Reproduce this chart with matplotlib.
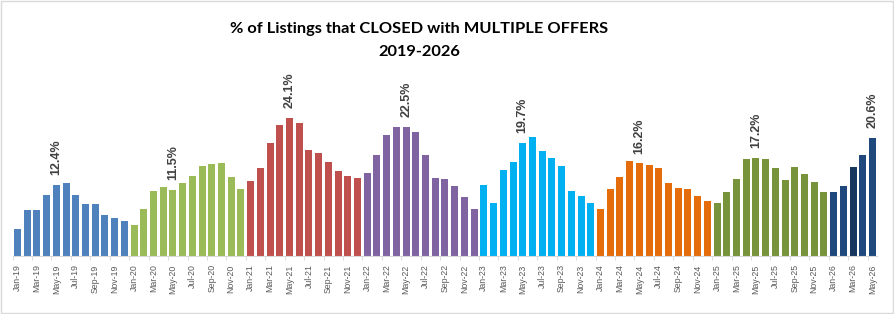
import matplotlib
matplotlib.use("Agg")
import matplotlib.pyplot as plt
import pandas as pd
from matplotlib.patches import Rectangle

# monthly % of listings closed with multiple offers, Jan-19 .. May-26
v2019 = [4.7, 8.1, 8.1, 10.7, 12.4, 12.8, 10.7, 9.1, 9.1, 7.2, 6.7, 6.1]
v2020 = [5.4, 8.2, 11.4, 12.1, 11.5, 12.8, 14.0, 15.8, 16.1, 16.3, 13.8, 11.7]
v2021 = [13.1, 15.4, 19.8, 22.9, 24.1, 23.3, 18.6, 18.0, 16.5, 14.9, 14.0, 13.7]
v2022 = [14.5, 17.7, 21.2, 22.5, 22.5, 21.7, 17.7, 13.7, 13.5, 12.3, 10.3, 8.2]
v2023 = [12.4, 9.3, 15.1, 16.5, 19.7, 20.7, 18.4, 17.2, 15.8, 11.4, 10.5, 9.3]
v2024 = [8.2, 11.7, 13.8, 16.6, 16.2, 15.9, 15.4, 12.8, 11.9, 11.7, 10.5, 9.6]
v2025 = [9.3, 11.2, 13.5, 17.0, 17.2, 17.0, 15.4, 13.3, 15.6, 14.4, 13.0, 11.2]
v2026 = [11.2, 12.3, 15.6, 17.7, 20.6]

years = [2019, 2020, 2021, 2022, 2023, 2024, 2025, 2026]
year_values = [v2019, v2020, v2021, v2022, v2023, v2024, v2025, v2026]
year_colors = ["#4F81BD", "#9BBB59", "#C0504D", "#8064A2",
               "#00B0F0", "#E46C0A", "#77933C", "#1F497D"]

# bars that carry a value label (May of every year)
labeled = ["May-19", "May-20", "May-21", "May-22", "May-23", "May-24", "May-25", "May-26"]
darker = {"Mar-26": "#17375E"}

values = []
colors = []
for vals, c in zip(year_values, year_colors):
    values += vals
    colors += [c] * len(vals)

months = pd.date_range("2019-01-01", periods=len(values), freq="MS").strftime("%b-%y").tolist()
for i, m in enumerate(months):
    if m in darker:
        colors[i] = darker[m]

fig = plt.figure(figsize=(8.95, 3.14), dpi=100)
ax = fig.add_axes([0.0141, 0.1847, 0.9662, 0.62])

x = list(range(len(values)))
ax.bar(x, values, width=0.72, color=colors)

for i, m in enumerate(months):
    if m in labeled:
        ax.annotate(f"{values[i]:.1f}%", (i, values[i]), xytext=(0, 7),
                    textcoords="offset points", rotation=90, ha="center", va="bottom",
                    fontsize=9, fontweight="bold", color="#404040",
                    family="Liberation Sans")

ax.set_xlim(-0.5, len(values) - 0.5)
ax.set_ylim(0, 34.0)

ax.set_xticks(x[::2])
ax.set_xticklabels(months[::2], rotation=90, fontsize=6.3, color="#595959",
                   family=["Liberation Sans Narrow", "Liberation Sans"])
ax.set_xticks([i - 0.5 for i in range(0, len(values) + 1, 2)], minor=True)
ax.tick_params(axis="x", which="major", length=0, pad=6)
ax.tick_params(axis="x", which="minor", length=3, color="#D9D9D9")
ax.set_yticks([])

for s in ["top", "right", "left"]:
    ax.spines[s].set_visible(False)
ax.spines["bottom"].set_color("#D9D9D9")

fig.text(0.468, 0.908, "% of Listings that CLOSED with MULTIPLE OFFERS",
         ha="center", va="center", fontsize=11.8, fontweight="bold", family="Lato")
fig.text(0.468, 0.835, "2019-2026", ha="center", va="center",
         fontsize=11.8, fontweight="bold", family="Lato")

fig.patches.append(Rectangle((0.001, 0.002), 0.997, 0.995, transform=fig.transFigure,
                             fill=False, edgecolor="#D9D9D9", linewidth=1))

fig.savefig("out.png", dpi=100)
